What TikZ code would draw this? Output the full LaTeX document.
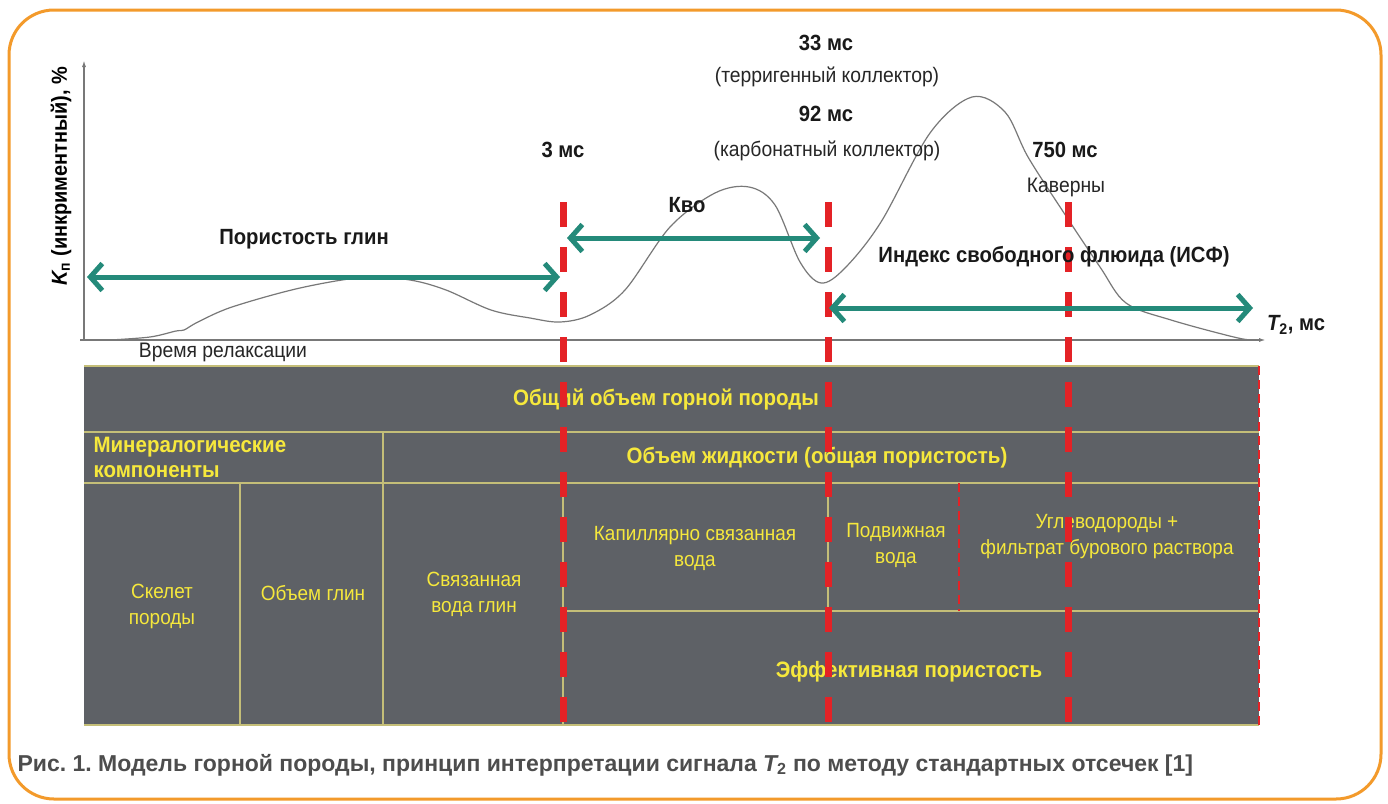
\documentclass[tikz,border=0pt]{standalone}
\usepackage{fontspec}
\setmainfont{Liberation Sans}
\newfontfamily\narrowsans[FakeStretch=0.92]{Liberation Sans}
\usetikzlibrary{arrows.meta, positioning}
\definecolor{frameorange}{RGB}{243, 154, 43}
\definecolor{rockgray}{RGB}{94, 97, 102}
\definecolor{cellline}{RGB}{196, 190, 120}
\definecolor{cellyellow}{RGB}{246, 232, 60}
\definecolor{arrowteal}{RGB}{36, 138, 122}
\definecolor{cutred}{RGB}{228, 34, 38}
\definecolor{curvegray}{RGB}{120, 120, 120}
\definecolor{captiongray}{RGB}{77, 77, 77}
\frenchspacing

\begin{document}
\begin{tikzpicture}[x=1pt, y=-1pt,
    tag/.style={font=\narrowsans\bfseries\fontsize{22}{24}\selectfont, text=black!90},
    note/.style={font=\narrowsans\fontsize{21}{23}\selectfont, text=black!85},
    head/.style={font=\narrowsans\bfseries\fontsize{22.3}{25}\selectfont, text=cellyellow, align=center},
    cell/.style={font=\narrowsans\fontsize{20.6}{26}\selectfont, text=cellyellow, align=center},
    span/.style={arrowteal, line width=5pt, {Straight Barb[length=12pt,width=27pt]}-{Straight Barb[length=12pt,width=27pt]}},
    cutoff/.style={cutred, line width=7pt, dash pattern=on 25pt off 20pt},
    thincut/.style={cutred, line width=2.5pt, dash pattern=on 9pt off 5pt},
    grid/.style={cellline, line width=1.5pt}]
    \useasboundingbox (0,0) rectangle (1388,803);
    \fill[white] (0,0) rectangle (1388,803);
    \draw[frameorange, line width=3pt, rounded corners=45pt] (9,10) rectangle (1381,799);

    % axes
    \coordinate (origin) at (84,340);
    \coordinate (ytop) at (84,60);
    \coordinate (xend) at (1266,340);
    \draw[curvegray, line width=1.5pt, -{Latex[length=7pt,width=4pt]}] (origin) -- (ytop);
    \draw[curvegray, line width=1.5pt, -{Latex[length=7pt,width=4pt]}] (80,340) -- (xend);
    \node[font=\narrowsans\bfseries\fontsize{21.7}{24}\selectfont, rotate=90] (ylab) at (61,176) {{\itshape K}\textsubscript{п} (инкриментный), \%};
    \node[tag] (xlab) at (1296,325) {{\itshape T}\textsubscript{2}, мс};
    \node[note] (relax) at (223,352) {Время релаксации};

    % T2 distribution
    \draw[curvegray, line width=1.2pt] plot[smooth, tension=0.55] coordinates {
      (110,340) (150,337) (176,331) (184,330) (198,322) (232,307) (300,288)
      (366,277) (410,280) (446,290) (491,310) (530,318) (560,322) (590,315)
      (625,290) (670,227) (715,193) (749,187) (775,205) (800,262) (821,283)
      (845,268) (881,222) (930,133) (972,97) (1005,112) (1028,157) (1064,213)
      (1100,267) (1126,303) (1171,320) (1238,338) (1258,340)};

    % rock model table
    \fill[rockgray] (84,366) rectangle (1259,725);
    \draw[grid] (84,366) -- (1259,366);
    \draw[grid] (84,725) -- (1259,725);
    \draw[grid] (84,432) -- (1259,432);
    \draw[grid] (84,483) -- (1259,483);
    \draw[grid] (563,611) -- (1259,611);
    \draw[grid] (383,432) -- (383,725);
    \draw[grid] (240,483) -- (240,725);
    \draw[grid] (563,483) -- (563,725);
    \draw[grid] (828,483) -- (828,611);
    \draw[thincut] (959,483) -- (959,611);
    \draw[thincut] (1259,366) -- (1259,725);

    \node[head] (total) at (666,400) {Общий объем горной породы};
    \node[head, anchor=west, align=left] (mineral) at (90,457) {Минералогические\\компоненты};
    \node[head] (fluid) at (817,458) {Объем жидкости (общая пористость)};
    \node[cell] (skeleton) at (162,606) {Скелет\\породы};
    \node[cell] (clay) at (313,593) {Объем глин};
    \node[cell] (claywater) at (474,594) {Связанная\\вода глин};
    \node[cell] (capillary) at (695,548) {Капиллярно связанная\\вода};
    \node[cell] (mobile) at (896,545) {Подвижная\\вода};
    \node[cell] (hydro) at (1107,537) {Углеводороды +\\фильтрат бурового раствора};
    \node[head] (effective) at (909,672) {Эффективная пористость};

    % cutoffs
    \coordinate (cut3top) at (563,202);
    \coordinate (cut3bot) at (563,725);
    \coordinate (cut33top) at (828,202);
    \coordinate (cut33bot) at (828,725);
    \coordinate (cut750top) at (1068,202);
    \coordinate (cut750bot) at (1068,725);
    \draw[cutoff] (cut3top) -- (cut3bot);
    \draw[cutoff] (cut33top) -- (cut33bot);
    \draw[cutoff] (cut750top) -- (cut750bot);

    \node[tag] (ms3) at (563,150) {3 мс};
    \node[tag] (ms33) at (826,43) {33 мс};
    \node[note] (terr) at (827,77) {(терригенный коллектор)};
    \node[tag] (ms92) at (826,114) {92 мс};
    \node[note] (carb) at (827,151) {(карбонатный коллектор)};
    \node[tag] (ms750) at (1065,150) {750 мс};
    \node[note] (cavern) at (1066,187) {Каверны};

    % porosity spans
    \coordinate (clayL) at (87,277);
    \coordinate (clayR) at (560,277);
    \coordinate (kvoL) at (567,238);
    \coordinate (kvoR) at (820,238);
    \coordinate (ffiL) at (829,308);
    \coordinate (ffiR) at (1253,308);
    \draw[span] (clayL) -- (clayR);
    \draw[span] (kvoL) -- (kvoR);
    \draw[span] (ffiL) -- (ffiR);
    \node[tag] (claypor) at (304,239) {Пористость глин};
    \node[tag] (kvo) at (687,205) {Кво};
    \node[tag] (ffi) at (1054,257) {Индекс свободного флюида (ИСФ)};

    % caption
    \node[font=\bfseries\fontsize{23}{26}\selectfont, text=captiongray, anchor=west] (caption) at (14,765)
      {Рис. 1. Модель горной породы, принцип интерпретации сигнала {\itshape T}\textsubscript{2} по методу стандартных отсечек [1]};
\end{tikzpicture}
\end{document}
